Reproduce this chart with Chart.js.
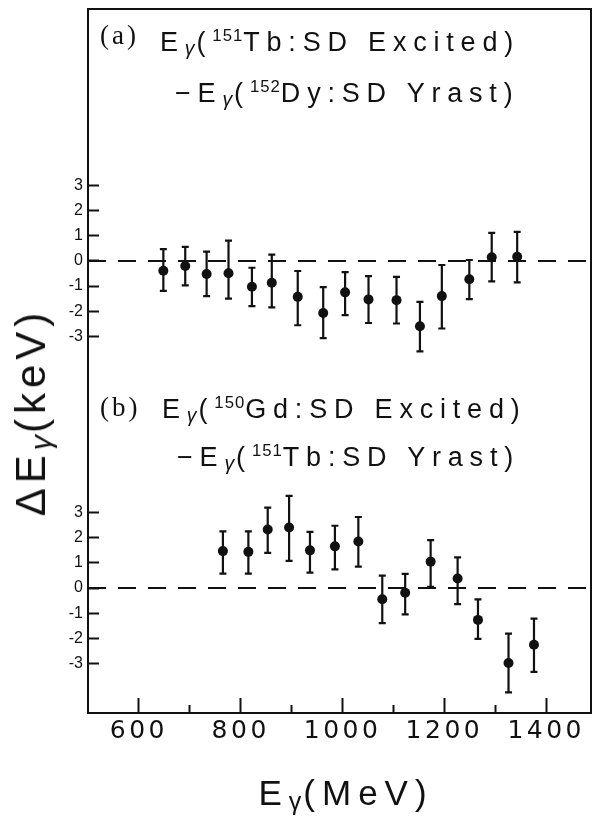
<!DOCTYPE html>
<html>
<head>
<meta charset="utf-8">
<script src="https://cdn.jsdelivr.net/npm/chart.js@4.4.1/dist/chart.umd.min.js"></script>
<style>
  html, body { margin: 0; padding: 0; background: #fff; }
  #wrap { position: relative; width: 596px; height: 817px; overflow: hidden; }
  #wrap canvas { position: absolute; left: 0; top: 0; }
  .txt { position: absolute; white-space: nowrap; color: #111; line-height: 1;
         font-family: "Liberation Sans", Arial, sans-serif; }
  .eq { font-size: 27px; letter-spacing: 6.8px; }
  .tag { font-family: "Liberation Serif", "Times New Roman", serif; font-size: 27px; letter-spacing: 3px; }
  .g { font-size: 0.72em; position: relative; top: 0.2em; font-style: italic; letter-spacing: 2px; }
  .sup { font-size: 0.62em; position: relative; top: -0.62em; letter-spacing: 1px; }
  .ytitle { font-size: 42px; letter-spacing: 5px; transform: translate(-50%, -50%) rotate(-90deg); }
  .xtitle { font-size: 35px; letter-spacing: 7px; transform: translateX(-50%); }
</style>
</head>
<body>
<div id="wrap">
  <canvas id="chart" width="596" height="817"></canvas>

  <div class="txt tag" style="left:100px; top:22px;">(a)</div>
  <div class="txt eq" style="left:160px; top:29px;">E<span class="g">γ</span>(<span class="sup">151</span>Tb:SD Excited)</div>
  <div class="txt eq" style="left:175px; top:80px;">−E<span class="g">γ</span>(<span class="sup">152</span>Dy:SD Yrast)</div>

  <div class="txt tag" style="left:100px; top:394px;">(b)</div>
  <div class="txt eq" style="left:162px; top:396px;">E<span class="g">γ</span>(<span class="sup">150</span>Gd:SD Excited)</div>
  <div class="txt eq" style="left:177px; top:444px;">−E<span class="g">γ</span>(<span class="sup">151</span>Tb:SD Yrast)</div>

  <div class="txt ytitle" style="left:31px; top:412px;">ΔE<span class="g">γ</span>(keV)</div>
  <div class="txt xtitle" style="left:346px; top:775px;">E<span class="g" style="font-style:normal">γ</span>(MeV)</div>
</div>

<script>
// Panel (a): 151Tb excited SD band minus 152Dy yrast SD band
const energiesA = [648, 691, 733, 776, 822, 861, 912, 962, 1005, 1051, 1106, 1152, 1195, 1249, 1293, 1343];
const deltaA    = [-0.39, -0.20, -0.52, -0.49, -1.03, -0.87, -1.43, -2.07, -1.25, -1.53, -1.56, -2.60, -1.40, -0.73, 0.15, 0.17];
const errUpA    = [0.86, 0.76, 0.89, 1.30, 0.76, 1.12, 1.03, 1.03, 0.81, 0.93, 0.93, 0.97, 1.24, 0.77, 0.97, 0.99];
const errDownA  = [0.80, 0.77, 0.88, 1.01, 0.77, 0.98, 1.13, 1.00, 0.91, 0.94, 0.93, 1.00, 1.29, 0.79, 0.96, 1.02];

// Panel (b): 150Gd excited SD band minus 151Tb yrast SD band
const energiesB = [765, 815, 853, 895, 936, 985, 1031, 1078, 1123, 1173, 1226, 1266, 1326, 1376];
const deltaB    = [1.47, 1.44, 2.33, 2.41, 1.50, 1.66, 1.85, -0.45, -0.19, 1.05, 0.38, -1.27, -2.99, -2.26];
const errUpB    = [0.79, 0.82, 0.87, 1.26, 0.74, 0.82, 0.98, 0.94, 0.75, 0.86, 0.84, 0.82, 1.17, 1.04];
const errDownB  = [0.90, 0.87, 0.93, 1.33, 0.89, 0.92, 1.00, 0.95, 0.86, 1.00, 1.02, 0.76, 1.17, 1.08];

// Axis ticks
const energyTicks = [600, 700, 800, 900, 1000, 1100, 1200, 1300, 1400];
const energyLabels = [600, 800, 1000, 1200, 1400];
const keVTicks = [-3, -2, -1, 0, 1, 2, 3];

const X_MIN = 500, X_MAX = 1488;
const A_MIN = -4.5, A_MAX = 10.04;
const B_MIN = -4.98, B_MAX = 8.53;

const ink = '#111';

// Vertical error bars with caps, positioned through the chart's scales
const errorBars = {
  id: 'errorBars',
  beforeDatasetsDraw(chart) {
    const ctx = chart.ctx;
    const xs = chart.scales.x;
    chart.data.datasets.forEach(ds => {
      if (!ds.errUp) return;
      const ys = chart.scales[ds.yAxisID];
      ctx.save();
      ctx.strokeStyle = ink;
      ctx.lineWidth = 2.2;
      ds.data.forEach((p, i) => {
        const px = xs.getPixelForValue(p.x);
        const yHi = ys.getPixelForValue(p.y + ds.errUp[i]);
        const yLo = ys.getPixelForValue(p.y - ds.errDown[i]);
        const cap = 3.5;
        ctx.beginPath();
        ctx.moveTo(px, yHi); ctx.lineTo(px, yLo);
        ctx.moveTo(px - cap, yHi); ctx.lineTo(px + cap, yHi);
        ctx.moveTo(px - cap, yLo); ctx.lineTo(px + cap, yLo);
        ctx.stroke();
      });
      ctx.restore();
    });
  },
  afterDatasetsDraw(chart) {
    // wide spacing for the energy tick labels drawn after this point
    chart.ctx.letterSpacing = '3.5px';
  },
  afterDraw(chart) {
    const ctx = chart.ctx;
    ctx.letterSpacing = '0px';
    const a = chart.chartArea;
    ctx.save();
    ctx.strokeStyle = ink;
    ctx.lineWidth = 2;
    ctx.strokeRect(a.left, a.top, a.right - a.left, a.bottom - a.top);
    ctx.restore();
  }
};

function panelAxis(min, max, order) {
  return {
    type: 'linear',
    position: 'left',
    stack: 'panels',
    stackWeight: max - min,
    weight: order,
    min, max,
    afterBuildTicks: s => { s.ticks = keVTicks.map(v => ({ value: v })); },
    afterFit: s => { s.width = 88; s.paddingTop = 0; s.paddingBottom = 0; },
    border: { display: true, color: ink, width: 2 },
    grid: { drawOnChartArea: false, drawTicks: true, tickLength: -11, tickWidth: 2, tickColor: ink },
    ticks: {
      color: ink, padding: 16,
      font: { family: '"Liberation Sans", Arial, sans-serif', size: 16 },
      callback: v => String(v)
    }
  };
}

const pointStyle = { pointRadius: 5, pointHoverRadius: 5, backgroundColor: ink, borderColor: ink, borderWidth: 0 };
const zeroStyle = { type: 'line', borderColor: ink, borderWidth: 2, borderDash: [18, 12], pointRadius: 0, fill: false };

new Chart(document.getElementById('chart'), {
  type: 'scatter',
  data: {
    datasets: [
      Object.assign({ label: '(a)', yAxisID: 'yA', errUp: errUpA, errDown: errDownA,
        data: energiesA.map((x, i) => ({ x, y: deltaA[i] })) }, pointStyle),
      Object.assign({ label: '(b)', yAxisID: 'yB', errUp: errUpB, errDown: errDownB,
        data: energiesB.map((x, i) => ({ x, y: deltaB[i] })) }, pointStyle),
      Object.assign({ label: 'zero (a)', yAxisID: 'yA', data: [{ x: X_MIN, y: 0 }, { x: X_MAX, y: 0 }] }, zeroStyle),
      Object.assign({ label: 'zero (b)', yAxisID: 'yB', data: [{ x: X_MIN, y: 0 }, { x: X_MAX, y: 0 }] }, zeroStyle)
    ]
  },
  options: {
    responsive: false,
    animation: false,
    events: [],
    layout: { padding: { left: 0, top: 9, right: 3, bottom: 0 } },
    plugins: { legend: { display: false }, tooltip: { enabled: false }, title: { display: false } },
    scales: {
      x: {
        type: 'linear', position: 'bottom', min: X_MIN, max: X_MAX,
        afterBuildTicks: s => { s.ticks = energyTicks.map(v => ({ value: v })); },
        afterFit: s => { s.height = 104; s.paddingLeft = 0; s.paddingRight = 0; },
        border: { display: true, color: ink, width: 2 },
        grid: {
          drawOnChartArea: false, drawTicks: true, tickLength: -15, tickWidth: 2, tickColor: ink,
          tickBorderDash: c => (c.tick && !energyLabels.includes(c.tick.value)) ? [9, 60] : []
        },
        ticks: {
          z: 1, padding: 18, color: ink, autoSkip: false, maxRotation: 0, minRotation: 0,
          font: { family: '"DejaVu Sans", sans-serif', size: 25 },
          callback: v => energyLabels.includes(v) ? String(v) : ''
        }
      },
      yA: panelAxis(A_MIN, A_MAX, 1),
      yB: panelAxis(B_MIN, B_MAX, 0)
    }
  },
  plugins: [errorBars]
});
</script>
</body>
</html>
